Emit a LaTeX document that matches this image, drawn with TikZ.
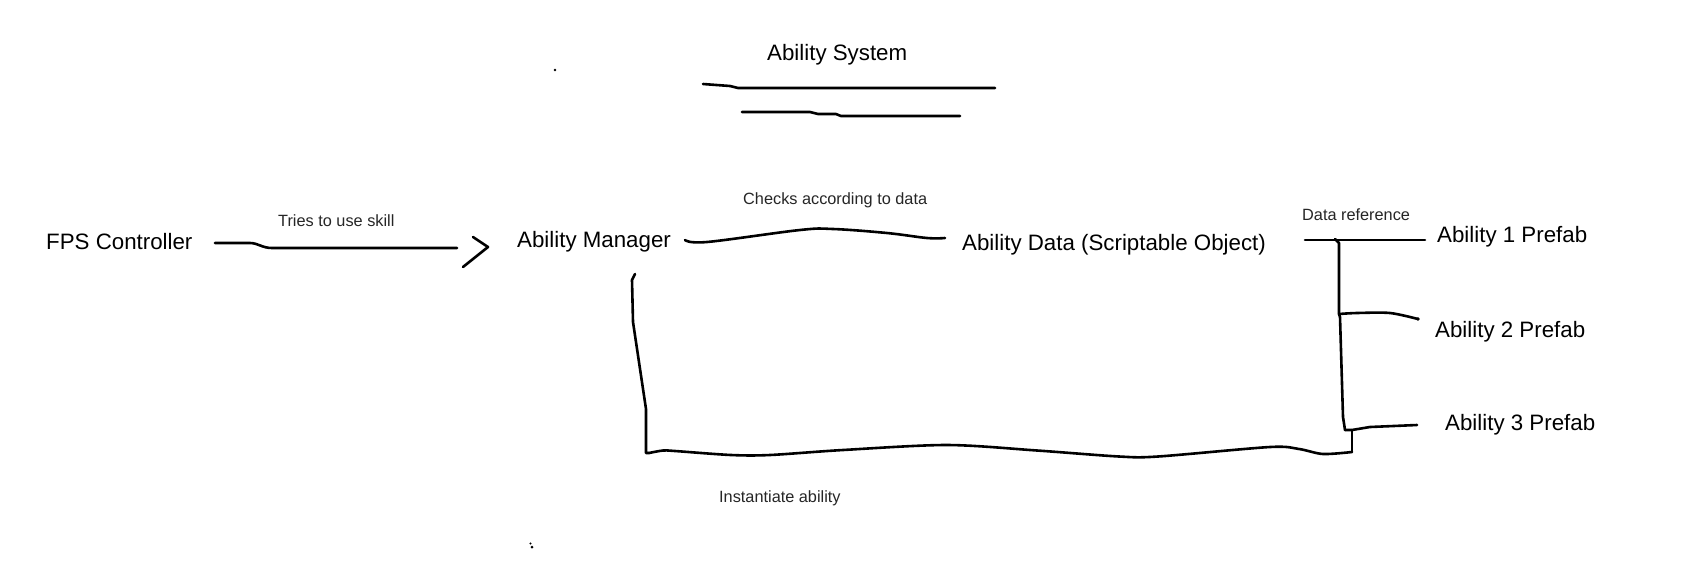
\documentclass[tikz,border=0pt]{standalone}
\usepackage{fontspec}
\setmainfont{Liberation Sans}
\begin{document}
\begin{tikzpicture}[x=1pt,y=-1pt,
  big/.style={inner sep=0pt, anchor=base west, font=\fontsize{22.3}{26}\selectfont},
  small/.style={inner sep=0pt, anchor=base west, font=\fontsize{16.3}{19}\selectfont, text=black!85},
  pen/.style={line width=2.6pt, line cap=round, line join=round, draw=black}]
\fill[white] (0,0) rectangle (1686,574);
\useasboundingbox (0,0) rectangle (1686,574);

% texts
\node[big] (title) at (767,60) {Ability System};
\node[big] (fps) at (46,249) {FPS Controller};
\node[small] (tries) at (278,226) {Tries to use skill};
\node[big] (mgr) at (517,247) {Ability Manager};
\node[small] (checks) at (743,204) {Checks according to data};
\node[big] (data) at (962,250) {Ability Data (Scriptable Object)};
\node[small] (dref) at (1302,220) {Data reference};
\node[big] (p1) at (1437,242) {Ability 1 Prefab};
\node[big] (p2) at (1435,337) {Ability 2 Prefab};
\node[big] (p3) at (1445,430) {Ability 3 Prefab};
\node[small] (inst) at (719,502) {Instantiate ability};

% connector end points
\coordinate (t1a) at (703,84);  \coordinate (t1b) at (995,88);
\coordinate (t2a) at (742,112); \coordinate (t2b) at (960,116);
\coordinate (fpsR) at (215,243); \coordinate (mgrL) at (457,248);
\coordinate (tip) at (488,247);
\coordinate (mgrR) at (685,240); \coordinate (dataL) at (945,238);
\coordinate (dataR) at (1305,240); \coordinate (p1L) at (1425,240);
\coordinate (trunk) at (1339,243);
\coordinate (br2) at (1339,314); \coordinate (p2L) at (1418,319);
\coordinate (br3) at (1345,430); \coordinate (p3L) at (1417,425);
\coordinate (stub) at (1352,430); \coordinate (corner) at (1352,452);
\coordinate (mgrB) at (635,274); \coordinate (lcorner) at (646,453);

% title underlines
\draw[pen] (t1a) -- (730,86) -- (738,88) -- (t1b);
\draw[pen] (t2a) -- (810,112) -- (818,114) -- (836,114) -- (841,116) -- (t2b);

% FPS -> Manager
\draw[pen] (fpsR) -- (250,243) .. controls (258,243) and (262,248) .. (272,248) -- (mgrL);
\draw[pen] (473,237) -- (tip) -- (463,267);

% Manager -- Data
\draw[pen] plot[smooth, tension=0.6] coordinates {(mgrR) (707,242) (800,230) (833,229) (887,233) (927,238) (dataL)};

% Data reference
\draw[pen] (dataR) -- (p1L);
\draw[pen] (1335,239) -- (trunk) -- (br2) -- (1340,317) -- (1343,417) -- (br3);
\draw[pen] plot[smooth, tension=0.5] coordinates {(br2) (1357,313) (1390,313) (p2L)};
\fill (p2L) circle (1.9);
\draw[pen] (br3) -- (stub) -- (1370,427) -- (p3L);

% Instantiate loop
\draw[pen] (stub) -- (corner);
\draw[pen] plot[smooth, tension=0.5] coordinates {(corner) (1323,454) (1299,449) (1270,447) (1158,456.5) (1119,456.5) (1037,450.5) (947,445) (843,450) (770,455) (731,455) (675,451) (663,450.5) (649,453)};
\draw[pen] (649,453) -- (lcorner) -- (646,409) -- (633,322) -- (632,280) -- (mgrB);

% stray marks
\fill (555,70) circle (1.3);
\fill (530.5,543.5) circle (1.1);
\fill (532,547) circle (1.5);
\end{tikzpicture}
\end{document}
